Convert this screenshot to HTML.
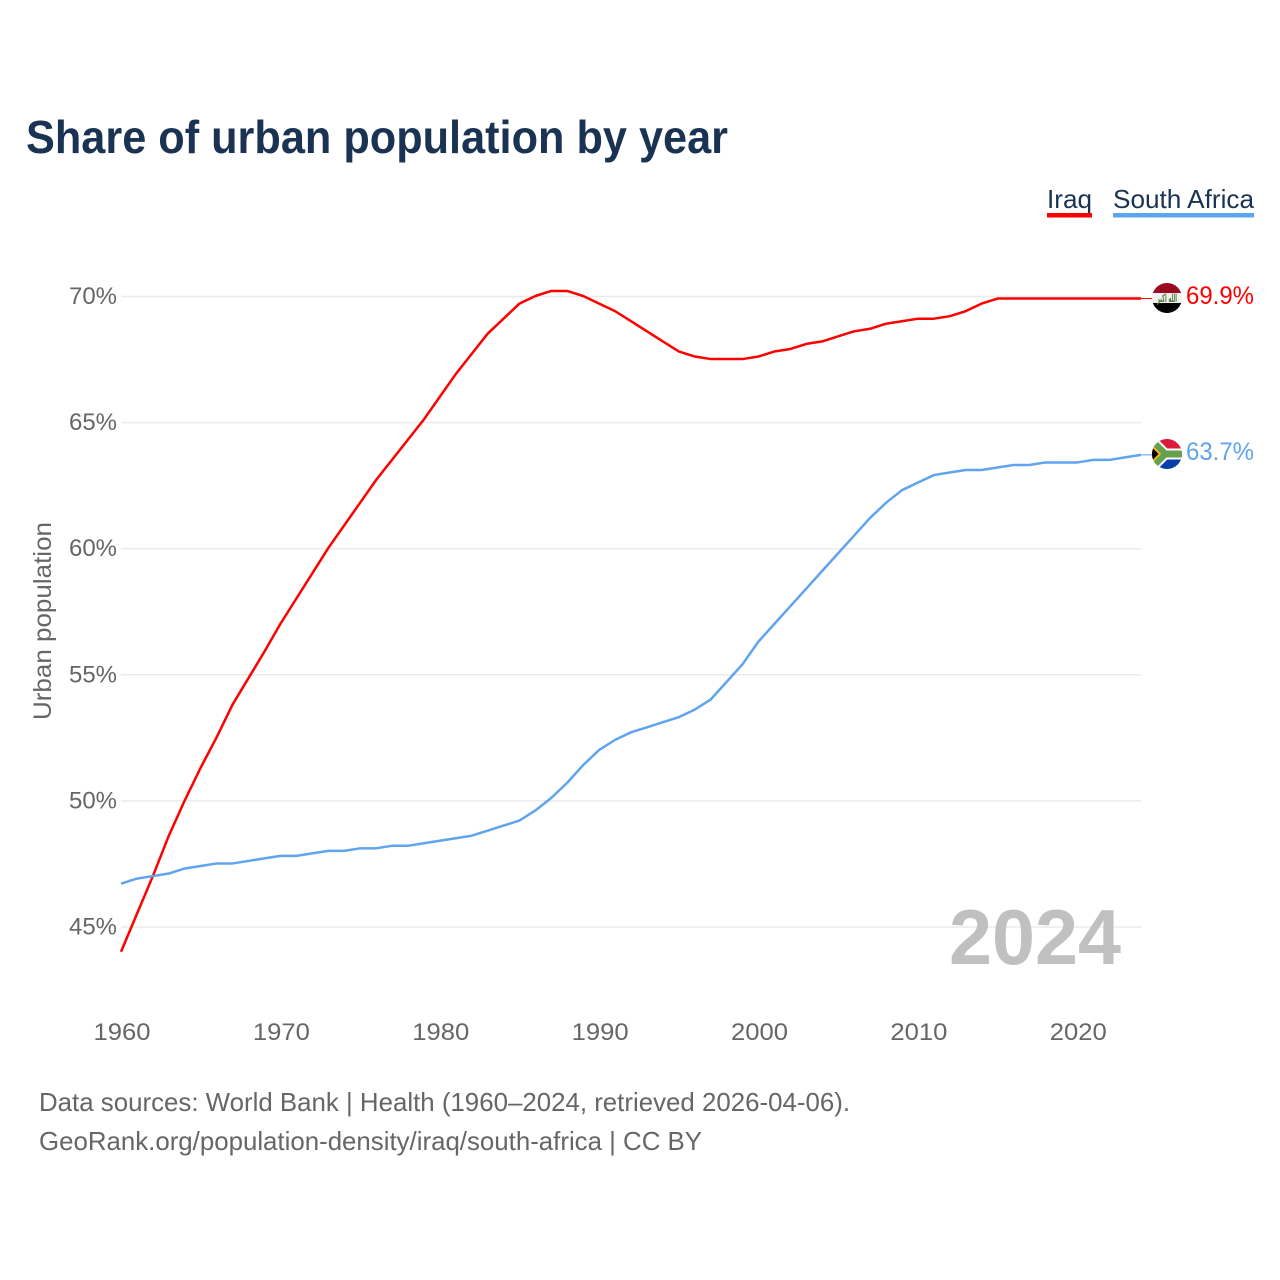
<!DOCTYPE html>
<html lang="en">
<head>
<meta charset="utf-8">
<title>Share of urban population by year</title>
<style>
html,body{margin:0;padding:0;background:#fff;}
svg{display:block;font-family:"Liberation Sans",sans-serif;}
</style>
</head>
<body>
<svg id="chart" xmlns="http://www.w3.org/2000/svg" width="1280" height="1280" viewBox="0 0 1280 1280">
  <defs>
    <clipPath id="clip-iraq"><circle cx="1167" cy="298" r="15"/></clipPath>
    <clipPath id="clip-za"><circle cx="1167" cy="454" r="15"/></clipPath>
  </defs>
  <rect width="1280" height="1280" fill="#fff"/>
  <text x="26" y="153" font-size="46" font-weight="700" fill="#1a3352" textLength="702" lengthAdjust="spacingAndGlyphs">Share of urban population by year</text>

  <g>
    <text x="1047" y="208" font-size="26" fill="#1a3352" textLength="45" lengthAdjust="spacingAndGlyphs">Iraq</text>
    <rect x="1047" y="213" width="45" height="4.5" fill="#ff0000"/>
  </g>
  <g>
    <text x="1113" y="208" font-size="26" fill="#1a3352" textLength="141" lengthAdjust="spacingAndGlyphs">South Africa</text>
    <rect x="1113" y="213" width="141" height="4.5" fill="#5fa4ee"/>
  </g>

  <text transform="translate(51 621) rotate(-90)" text-anchor="middle" font-size="25" fill="#666" textLength="198" lengthAdjust="spacingAndGlyphs">Urban population</text>

  <g id="grid"></g>
  <g id="y-ticks"></g>
  <g id="x-ticks"></g>

  <text x="949" y="964" font-size="78" font-weight="700" fill="#bdbdbd" fill-opacity="0.95" textLength="172" lengthAdjust="spacingAndGlyphs">2024</text>

  <g id="series"></g>

  <g clip-path="url(#clip-iraq)">
    <rect x="1152" y="283" width="30" height="10" fill="#9c0a22"/>
    <rect x="1152" y="293" width="30" height="10" fill="#f1f1f1"/>
    <rect x="1152" y="303" width="30" height="10" fill="#000"/>
    <text x="1167" y="302" text-anchor="middle" font-size="11" font-weight="700" font-family="'DejaVu Sans',sans-serif" fill="#4b7a2c" textLength="20" lengthAdjust="spacingAndGlyphs">الله اكبر</text>
  </g>
  <g clip-path="url(#clip-za)">
    <rect x="1152" y="439" width="30" height="15" fill="#de1a3c"/>
    <rect x="1152" y="454" width="30" height="15" fill="#0b3fa8"/>
    <path d="M1148 437 L1165 454 L1148 471 M1165 454 H1184" fill="none" stroke="#fff" stroke-width="11"/>
    <path d="M1148 437 L1165 454 L1148 471 M1165 454 H1184" fill="none" stroke="#64a04e" stroke-width="7"/>
    <path d="M1150 444 L1160 454 L1150 464 Z" fill="#000" stroke="#f2b81f" stroke-width="2"/>
  </g>

  <text id="label-iraq" x="1186" y="304" font-size="25" fill="#ff0000" textLength="68" lengthAdjust="spacingAndGlyphs"></text>
  <text id="label-za" x="1186" y="460" font-size="25" fill="#5fa4ee" textLength="68" lengthAdjust="spacingAndGlyphs"></text>

  <text x="39" y="1111" font-size="26" fill="#666" textLength="811" lengthAdjust="spacingAndGlyphs">Data sources: World Bank | Health (1960–2024, retrieved 2026-04-06).</text>
  <text x="39" y="1150" font-size="26" fill="#666" textLength="663" lengthAdjust="spacingAndGlyphs">GeoRank.org/population-density/iraq/south-africa | CC BY</text>
</svg>
<script>
const startYear = 1960;
const xTickYears = [1960, 1970, 1980, 1990, 2000, 2010, 2020];
const yTickValues = [45, 50, 55, 60, 65, 70];
const iraqValues = [44.0,45.5,47.0,48.6,50.0,51.3,52.5,53.8,54.85,55.9,57.0,58.0,59.0,60.0,60.9,61.8,62.7,63.5,64.3,65.1,66.0,66.9,67.7,68.5,69.1,69.7,70.0,70.2,70.2,70.0,69.7,69.4,69.0,68.6,68.2,67.8,67.6,67.5,67.5,67.5,67.6,67.8,67.9,68.1,68.2,68.4,68.6,68.7,68.9,69.0,69.1,69.1,69.2,69.4,69.7,69.9,69.9,69.9,69.9,69.9,69.9,69.9,69.9,69.9,69.9];
const southAfricaValues = [46.7,46.9,47.0,47.1,47.3,47.4,47.5,47.5,47.6,47.7,47.8,47.8,47.9,48.0,48.0,48.1,48.1,48.2,48.2,48.3,48.4,48.5,48.6,48.8,49.0,49.2,49.6,50.1,50.7,51.4,52.0,52.4,52.7,52.9,53.1,53.3,53.6,54.0,54.7,55.4,56.3,57.0,57.7,58.4,59.1,59.8,60.5,61.2,61.8,62.3,62.6,62.9,63.0,63.1,63.1,63.2,63.3,63.3,63.4,63.4,63.4,63.5,63.5,63.6,63.7];

const NS = 'http://www.w3.org/2000/svg';
function xScale(year) { return 121 + (year - 1960) * (1020 / 64); }
function yScale(value) { return 296 + (70 - value) * 25.22; }

const grid = document.getElementById('grid');
const yTicks = document.getElementById('y-ticks');
const xTicks = document.getElementById('x-ticks');
const seriesGroup = document.getElementById('series');

yTickValues.forEach(function (v) {
  const line = document.createElementNS(NS, 'line');
  
  
  line.setAttribute('x1', 121);
  line.setAttribute('x2', 1141);
  line.setAttribute('y1', yScale(v) + 0.5);
  line.setAttribute('y2', yScale(v) + 0.5);
  line.setAttribute('stroke', '#ebebeb');
  line.setAttribute('stroke-width', '1.5');
  grid.appendChild(line);

  const label = document.createElementNS(NS, 'text');
  
  
  label.setAttribute('x', 117);
  label.setAttribute('y', yScale(v) + 8);
  label.setAttribute('text-anchor', 'end');
  label.setAttribute('font-size', '24');
  label.setAttribute('fill', '#666');
  label.setAttribute('textLength', '48');
  label.setAttribute('lengthAdjust', 'spacingAndGlyphs');
  label.textContent = v + '%';
  yTicks.appendChild(label);
});

xTickYears.forEach(function (y) {
  const label = document.createElementNS(NS, 'text');
  
  
  label.setAttribute('x', xScale(y) + 1);
  label.setAttribute('y', 1040);
  label.setAttribute('text-anchor', 'middle');
  label.setAttribute('font-size', '24');
  label.setAttribute('fill', '#666');
  label.setAttribute('textLength', '57');
  label.setAttribute('lengthAdjust', 'spacingAndGlyphs');
  label.textContent = y;
  xTicks.appendChild(label);
});

function buildPoints(values) {
  return values.map(function (v, i) {
    return xScale(startYear + i).toFixed(2) + ',' + yScale(v).toFixed(2);
  }).join(' ');
}

const iraqLine = document.createElementNS(NS, 'polyline');


iraqLine.setAttribute('points', buildPoints(iraqValues));
iraqLine.setAttribute('fill', 'none');
iraqLine.setAttribute('stroke', '#ff0000');
iraqLine.setAttribute('stroke-width', '2.5');
iraqLine.setAttribute('stroke-linejoin', 'round');
seriesGroup.appendChild(iraqLine);

const zaLine = document.createElementNS(NS, 'polyline');


zaLine.setAttribute('points', buildPoints(southAfricaValues));
zaLine.setAttribute('fill', 'none');
zaLine.setAttribute('stroke', '#5fa4ee');
zaLine.setAttribute('stroke-width', '2.5');
zaLine.setAttribute('stroke-linejoin', 'round');
seriesGroup.appendChild(zaLine);

const iraqLast = iraqValues[iraqValues.length - 1];
const zaLast = southAfricaValues[southAfricaValues.length - 1];

const iraqConnector = document.createElementNS(NS, 'line');


iraqConnector.setAttribute('x1', 1141);
iraqConnector.setAttribute('x2', 1153);
iraqConnector.setAttribute('y1', yScale(iraqLast));
iraqConnector.setAttribute('y2', yScale(iraqLast));
iraqConnector.setAttribute('stroke', '#ff0000');
iraqConnector.setAttribute('stroke-width', '1');
seriesGroup.appendChild(iraqConnector);

const zaConnector = document.createElementNS(NS, 'line');


zaConnector.setAttribute('x1', 1141);
zaConnector.setAttribute('x2', 1153);
zaConnector.setAttribute('y1', yScale(zaLast));
zaConnector.setAttribute('y2', yScale(zaLast));
zaConnector.setAttribute('stroke', '#5fa4ee');
zaConnector.setAttribute('stroke-width', '1');
seriesGroup.appendChild(zaConnector);

document.getElementById('label-iraq').textContent = iraqLast.toFixed(1) + '%';
document.getElementById('label-za').textContent = zaLast.toFixed(1) + '%';
</script>
</body>
</html>
